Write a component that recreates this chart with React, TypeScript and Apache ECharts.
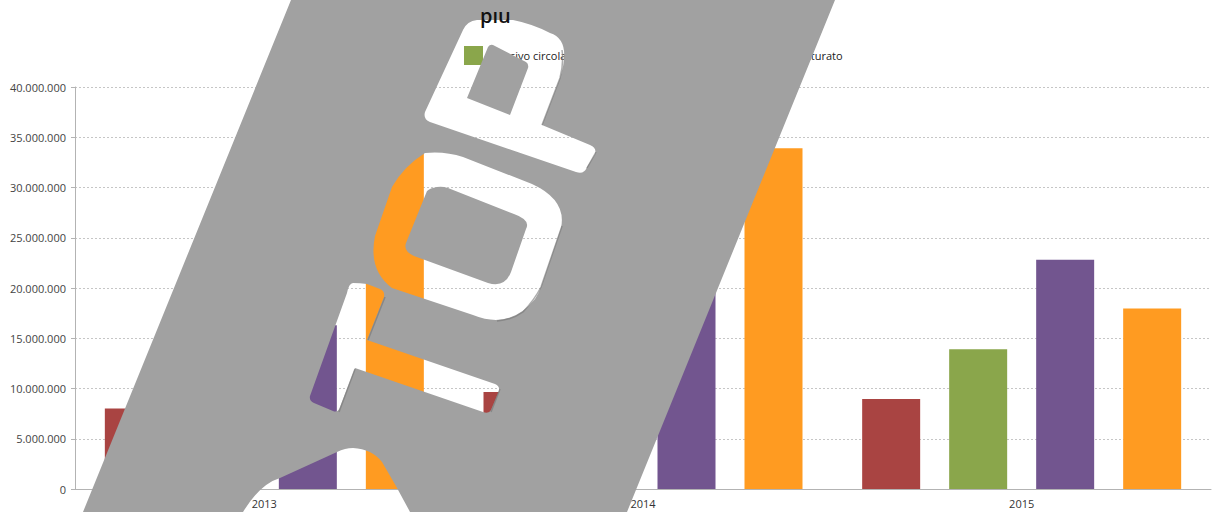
import React, { useEffect, useRef } from "react";
import * as echarts from "echarts";

const years = ["2013", "2014", "2015"];
const redValues = [8000000, 9650000, 8950000];
const greenValues = [12500000, 14500000, 13900000];
const purpleValues = [16300000, 22500000, 22800000];
const orangeValues = [33500000, 33900000, 17950000];
const legendNames = ["Passivo circolante", "Fatturato"];

// Grey ribbon with the word TOP punched out of it; each letter winds the other
// way from the ribbon so that the chart shows through.
const RIBBON =
  "M291 0 L835 0 L627 512 L410 512 Q397 487 382 462 Q372 449 353 448 Q345 448 337 452 L280 478 Q260 484 243 512 L83 512 Z";
const LETTER_T =
  "M353 283 Q349 283 347 293 L310 396 Q309 401 314 403 L333 411 Q338 413 340 407 L355 368 L483 412 Q489 414 491 410 L499 391 Q500 386 495 384 L367 340 L384 297 Q385 291 380 289 L367 284 Q360 283 353 283 Z";
const LETTER_O =
  "M425 153 Q404 166 392 187 L375 236 Q368 270 392 288 L473 315 Q510 330 535 299 Q539 293 541 287 L561 228 Q567 200 532 184 L463 157 Q445 151 425 153 Z";
const COUNTER_O =
  "M437 187 Q442 186 448 188 L514 214 Q531 220 526 229 L511 272 Q505 288 488 283 L414 256 Q403 251 406 243 L427 191 Q430 188 437 187 Z";
const LETTER_P =
  "M477 20 Q467 21 463 30 L425 112 Q423 119 430 122 L576 172 Q584 175 587 167 L595 154 Q597 148 590 145 L542 125 L560 78 Q572 40 550 33 Q533 24 513 20 Z";
const COUNTER_P = "M493 45 L526 62 Q529 64 528 68 L510 115 L467 98 L488 47 Q490 44 493 45 Z";

// Dark bevel along the right-hand edges of the letters.
const BEVEL =
  "M562 50 Q564 62 560 78 L542 125 M596 152 L587 168 M562 226 L541 287 Q535 299 523 312 Q512 320 497 321 M500 389 L491 412 M385 297 L368 340 M355 369 L339 412";

echarts.graphic.registerShape(
  "topRibbon",
  echarts.graphic.extendPath(
    [RIBBON, LETTER_T, LETTER_O, COUNTER_O, LETTER_P, COUNTER_P].join(" "),
    {}
  )
);
echarts.graphic.registerShape("topBevel", echarts.graphic.extendPath(BEVEL, {}));

const groupedThousands = (value: number) =>
  String(value).replace(/\B(?=(\d{3})+(?!\d))/g, ".");

const barSeries = (name: string, data: number[], color: string) => ({
  name,
  type: "bar",
  data,
  barWidth: 58,
  barGap: "50%",
  itemStyle: { color },
});

export default function App() {
  const ref = useRef<HTMLDivElement>(null);

  useEffect(() => {
    const chart = echarts.init(ref.current!, undefined, { renderer: "svg" });
    const axisGrey = "#b3b3b3";
    chart.setOption({
      animation: false,
      backgroundColor: "#ffffff",
      textStyle: { fontFamily: "Open Sans" },
      grid: { left: 75, right: 7, top: 87, bottom: 23, containLabel: false },
      legend: {
        data: legendNames,
        left: 464,
        top: 46,
        padding: 0,
        icon: "rect",
        itemWidth: 19,
        itemHeight: 19,
        itemGap: 184,
        textStyle: {
          fontFamily: "Open Sans",
          fontSize: 11,
          color: "#222222",
          padding: [2, 0, 0, 4],
        },
      },
      xAxis: {
        type: "category",
        data: years,
        axisLine: { lineStyle: { color: axisGrey } },
        axisTick: { length: 14, lineStyle: { color: axisGrey } },
        axisLabel: { margin: 9, fontFamily: "Open Sans", fontSize: 11, color: "#333333" },
      },
      yAxis: {
        type: "value",
        min: 0,
        max: 40000000,
        interval: 5000000,
        axisLine: { show: true, lineStyle: { color: axisGrey } },
        axisTick: { show: true, length: 4, lineStyle: { color: axisGrey } },
        axisLabel: {
          margin: 9,
          fontFamily: "Open Sans",
          fontSize: 11,
          color: "#444444",
          formatter: groupedThousands,
        },
        splitLine: { lineStyle: { color: "#c6c6c6", type: [2, 2], width: 1 } },
      },
      series: [
        barSeries("Ricavi", redValues, "#a94442"),
        barSeries(legendNames[0], greenValues, "#8aa64b"),
        barSeries("Utile", purpleValues, "#72558f"),
        barSeries(legendNames[1], orangeValues, "#ff9b21"),
      ],
      graphic: {
        elements: [
          {
            type: "topRibbon",
            x: 0,
            y: 0,
            z: 100,
            style: { fill: "#a1a1a1" },
          },
          {
            type: "topBevel",
            x: 0,
            y: 0,
            z: 101,
            style: { fill: "none", stroke: "#777777", lineWidth: 1.5, opacity: 0.6 },
          },
          {
            type: "text",
            x: 480,
            y: 5,
            z: 102,
            style: {
              text: "più",
              fill: "#111111",
              font: "600 20px 'Open Sans'",
            },
          },
          // The ribbon's upper band hides the top of the title line.
          {
            type: "rect",
            z: 103,
            shape: { x: 470, y: 0, width: 50, height: 12 },
            style: { fill: "#a1a1a1" },
          },
        ],
      },
    });
    return () => chart.dispose();
  }, []);

  return (
    <div
      ref={ref}
      style={{ position: "absolute", left: 0, top: 0, width: 1218, height: 512 }}
    />
  );
}
